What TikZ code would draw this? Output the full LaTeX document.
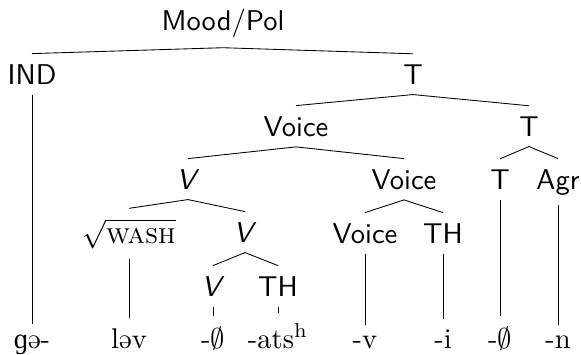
\documentclass[tikz,border=0pt]{standalone}
\usepackage{fontspec}
\newfontfamily\ipafont{Liberation Serif}
\begin{document}
\begin{tikzpicture}[x=0.35pt,y=-0.35pt,
  lab/.style={font=\sffamily, inner sep=3.5pt, anchor=base},
  leaf/.style={inner sep=3.5pt, anchor=base},
  br/.style={line width=0.3pt}]
\useasboundingbox (0,0) rectangle (581,354);
% internal nodes
\node[lab] (root) at (223,30) {Mood/Pol};
\node[lab] (ind) at (32,84) {IND};
\node[lab] (t1) at (413,84) {T};
\node[lab] (voice1) at (296,136) {Voice};
\node[lab] (t2) at (529,136) {T};
\node[lab] (v1) at (188,189) {\textit{V}};
\node[lab] (voice2) at (404,189) {Voice};
\node[lab] (t3) at (500,189) {T};
\node[lab] (agr) at (558,189) {Agr};
\node[leaf] (root2) at (129,243) {$\sqrt{\mbox{\textsc{wash}}}$};
\node[lab] (v2) at (245,242) {\textit{V}};
\node[lab] (voice3) at (365,243) {Voice};
\node[lab] (th1) at (443,243) {TH};
\node[lab] (v3) at (213,296) {\textit{V}};
\node[lab] (th2) at (278,296) {TH};
% leaves
\node[leaf] (l1) at (32,348) {{\ipafont ɡ}ə-};
\node[leaf] (l2) at (129,348) {ləv};
\node[leaf] (l3) at (213,348) {-$\emptyset$};
\node[leaf] (l4) at (278,348) {-ats$^{\mathrm{h}}$};
\node[leaf] (l5) at (365,348) {-v};
\node[leaf] (l6) at (443,348) {-i};
\node[leaf] (l7) at (500,348) {-$\emptyset$};
\node[leaf] (l8) at (558,348) {-n};
% branches
\draw[br] (ind.north) -- (root.south) -- (t1.north);
\draw[br] (voice1.north) -- (t1.south) -- (t2.north);
\draw[br] (v1.north) -- (voice1.south) -- (voice2.north);
\draw[br] (t3.north) -- (t2.south) -- (agr.north);
\draw[br] (root2.north) -- (v1.south) -- (v2.north);
\draw[br] (voice3.north) -- (voice2.south) -- (th1.north);
\draw[br] (v3.north) -- (v2.south) -- (th2.north);
\draw[br] (ind.south) -- (l1.north);
\draw[br] (root2.south) -- (l2.north);
\draw[br] (v3.south) -- (l3.north);
\draw[br] (th2.south) -- (l4.north);
\draw[br] (voice3.south) -- (l5.north);
\draw[br] (th1.south) -- (l6.north);
\draw[br] (t3.south) -- (l7.north);
\draw[br] (agr.south) -- (l8.north);
\end{tikzpicture}
\end{document}
